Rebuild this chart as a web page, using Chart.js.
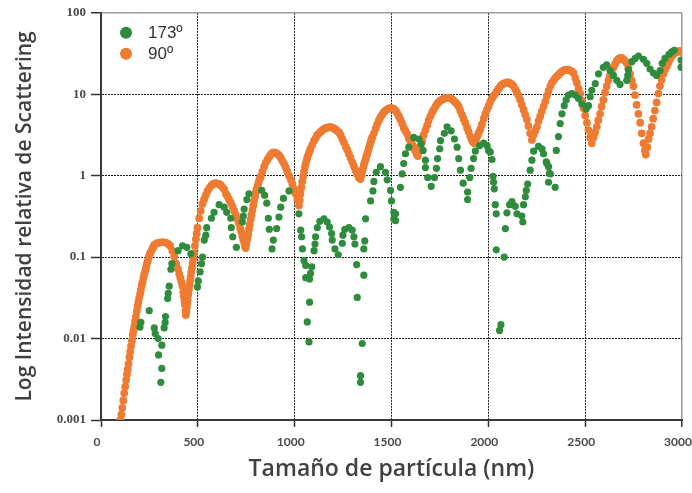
<!DOCTYPE html>
<html>
<head>
<meta charset="utf-8">
<script src="https://cdn.jsdelivr.net/npm/chart.js@4.4.1/dist/chart.umd.min.js"></script>
<style>
html,body{margin:0;padding:0;background:#ffffff;}
#wrap{width:692px;height:493px;}
</style>
</head>
<body>
<div id="wrap"><canvas id="c" width="692" height="493"></canvas></div>
<script>
// ---- tick labels / titles ----
const xTickValues = [0, 500, 1000, 1500, 2000, 2500, 3000];
const xTickLabels = ['0', '500', '1000', '1500', '2000', '2500', '3000'];
const yTickValues = [0.001, 0.01, 0.1, 1, 10, 100];
const yTickLabels = ['0.001', '0.01', '0.1', '1', '10', '100'];
const xTitle = 'Tamaño de partícula (nm)';
const yTitle = 'Log Intensidad relativa de Scattering';
const seriesNames = ['173º', '90º'];

// ---- 173º series (green) ----
const size173 = [201,206,249,275,280,295,297,309,314,314,326,331,333,344,347,352,361,366,398,421,443,464,
  498,502,512,519,524,533,541,546,570,584,610,636,649,670,673,680,699,730,735,739,753,764,
  830,845,856,864,869,883,890,907,919,928,942,971,
  1022,1031,1036,1040,1048,1057,1057,1065,1074,1077,1077,1082,1088,1100,1105,1108,1117,1130,1151,1168,1180,1191,1194,1208,1225,
  1246,1249,1259,1280,1297,1306,1311,1320,1323,1340,1340,1349,1357,1357,1362,1366,1392,1404,1409,1421,1443,1469,1478,1495,1500,
  1512,1512,1521,1521,1546,1555,1563,1572,1589,1615,1641,1653,1663,1675,1675,1687,1705,1722,1732,1738,1749,1753,1773,1787,
  1808,1825,1839,1847,1856,1870,1893,1893,1904,1911,1924,1933,1955,1976,1993,2001,2010,2019,2024,2027,2031,2036,2041,2041,
  2058,2065,2082,2088,2096,2110,2122,2139,2148,2173,2178,2182,2191,2196,2203,2216,2225,2234,2259,2277,2285,2299,2302,2311,2316,2320,2311,
  2345,2351,2362,2371,2380,2392,2402,2414,2431,2448,2465,2483,2505,2517,2526,2534,2552,2569,2594,2611,2629,2646,2663,2680,
  2715,2720,2723,2741,2758,2775,2801,2818,2835,2852,2869,2887,2898,2912,2933,2947,2960,2995,2995];
const intensity173 = [0.0138,0.0158,0.022,0.0135,0.0115,0.010,0.0063,0.0029,0.0083,0.0043,0.0135,0.0158,0.0186,0.031,0.036,0.044,0.071,0.083,0.12,0.138,0.132,0.11,
  0.043,0.051,0.066,0.083,0.10,0.162,0.186,0.23,0.30,0.355,0.44,0.41,0.355,0.30,0.23,0.178,0.132,0.27,0.32,0.39,0.51,0.60,
  0.66,0.575,0.46,0.30,0.22,0.126,0.162,0.224,0.31,0.41,0.525,0.65,
  0.34,0.214,0.178,0.126,0.091,0.079,0.056,0.016,0.0091,0.054,0.028,0.063,0.076,0.12,0.145,0.178,0.23,0.275,0.295,0.27,0.234,0.195,0.162,0.126,0.107,
  0.148,0.186,0.22,0.23,0.214,0.178,0.145,0.081,0.032,0.0035,0.0029,0.0087,0.060,0.126,0.158,0.295,0.49,0.65,0.85,1.10,1.29,1.10,0.89,0.66,0.49,
  0.355,0.295,0.34,0.28,0.72,1.05,1.41,1.86,2.24,2.95,2.82,2.45,2.04,1.55,1.26,0.95,0.74,0.95,1.23,1.62,2.14,2.69,3.31,3.98,
  3.55,2.82,2.24,1.62,1.17,0.81,0.63,0.51,0.95,1.23,1.62,2.0,2.34,2.51,2.34,2.04,1.95,1.58,0.98,0.83,0.69,0.44,0.34,0.123,
  0.0126,0.0148,0.10,0.224,0.35,0.44,0.48,0.42,0.34,0.32,0.27,0.44,0.55,0.66,0.79,1.17,1.55,2.0,2.29,2.14,1.86,1.48,1.41,1.29,1.07,1.05,0.83,
  0.72,2.04,3.02,4.37,5.75,7.24,8.51,9.77,10.2,9.77,8.91,7.59,6.61,7.24,9.33,11.2,13.5,17.8,21.4,22.9,19.5,17.0,14.8,13.2,
  14.8,17.0,20.0,25.1,27.5,29.5,26.9,24.0,20.4,18.2,17.0,19.5,24.0,27.5,30.9,33.1,34.7,26.3,21.4];

// ---- 90º series (orange) ----
const size90 = [100,105,110,115,120,125,130,134,138,142,147,151,155,160,164,168,172,176,180,185,189,193,197,202,206,210,214,219,223,228,232,236,241,245,250,254,258,263,267,271,275,
  288,301,318,335,347,357,368,378,388,398,404,410,416,421,425,428,431,433,436,438,441,443,445,447,451,454,457,460,463,466,470,473,476,480,485,490,494,498,
  507,515,524,532,541,550,560,570,580,590,600,610,620,628,636,645,653,661,670,679,688,696,705,712,718,724,730,735,740,744,747,
  751,755,760,764,768,773,777,782,786,790,795,799,803,808,812,816,821,825,833,842,851,860,868,877,885,893,902,910,919,928,937,945,954,962,971,980,988,997,1005,1014,1022,
  1026,1030,1035,1039,1044,1048,1052,1056,1061,1065,1069,1074,1078,1082,1091,1100,1108,1117,1126,1134,1143,1152,1160,1169,1178,1186,1195,1203,1212,1220,1229,1237,1246,1254,1263,1271,1280,1288,1297,1305,1314,1322,1331,1340,
  1344,1348,1353,1357,1361,1366,1370,1375,1379,1383,1388,1392,1396,1400,1409,1418,1426,1435,1443,1452,1460,1469,1478,1486,1495,1503,1512,1521,1529,1538,1546,1555,1563,1572,1581,1589,1598,1606,1615,1622,1629,1636,
  1643,1650,1658,1666,1675,1684,1692,1701,1710,1718,1727,1735,1744,1752,1761,1770,1778,1787,1795,1804,1812,1821,1830,1838,1847,1855,1864,1872,1881,1890,1898,1907,1915,1922,1929,
  1936,1944,1951,1959,1967,1976,1984,1993,2002,2010,2019,2027,2036,2045,2053,2062,2071,2079,2088,2096,2105,2113,2122,2130,2139,2148,2156,2165,2173,2182,2190,2199,2207,2216,2225,
  2233,2242,2251,2259,2268,2276,2285,2294,2302,2311,2320,2328,2337,2345,2354,2363,2371,2380,2389,2397,2406,2414,2423,2431,2440,2449,2457,2466,2474,2483,2491,2500,2509,2517,2526,2534,
  2543,2551,2560,2568,2577,2585,2594,2603,2611,2620,2628,2637,2646,2654,2663,2671,2680,2689,2697,2706,2715,2723,2732,2740,2749,2757,2766,2775,2784,2792,2801,2808,2813,
  2821,2828,2835,2843,2851,2860,2869,2878,2886,2895,2904,2912,2921,2930,2938,2947,2955,2964,2972,2981,2989,2998];
const intensity90 = [0.001,0.00117,0.00141,0.00174,0.00214,0.00257,0.00309,0.00363,0.00417,0.0049,0.0059,0.0069,0.0081,0.0095,0.0112,0.0126,0.0141,0.0162,0.0186,0.0219,0.025,0.0282,0.0316,0.0355,0.0398,0.0447,0.049,0.055,0.0617,0.0676,0.0741,0.0813,0.0891,0.0977,0.105,0.112,0.117,0.123,0.129,0.135,0.141,
  0.148,0.151,0.153,0.151,0.145,0.138,0.12,0.102,0.083,0.071,0.062,0.055,0.049,0.044,0.037,0.033,0.029,0.026,0.022,0.0195,0.0215,0.024,0.027,0.030,0.035,0.040,0.045,0.051,0.058,0.066,0.075,0.085,0.097,0.112,0.138,0.166,0.195,0.23,
  0.30,0.37,0.45,0.51,0.575,0.65,0.71,0.76,0.79,0.81,0.80,0.79,0.76,0.72,0.68,0.60,0.56,0.51,0.47,0.42,0.37,0.33,0.29,0.26,0.23,0.205,0.18,0.163,0.15,0.138,0.129,
  0.145,0.166,0.19,0.22,0.25,0.29,0.33,0.38,0.43,0.49,0.55,0.62,0.68,0.74,0.80,0.87,0.93,0.98,1.12,1.29,1.45,1.58,1.70,1.82,1.91,1.93,1.91,1.86,1.78,1.66,1.51,1.41,1.26,1.12,1.0,0.89,0.79,0.69,0.60,0.51,0.43,
  0.50,0.60,0.72,0.85,0.98,1.12,1.25,1.38,1.52,1.66,1.78,1.91,2.02,2.14,2.40,2.69,2.88,3.16,3.31,3.47,3.63,3.76,3.85,3.89,3.94,3.94,3.89,3.80,3.67,3.55,3.39,3.16,2.82,2.57,2.29,2.09,1.86,1.66,1.48,1.32,1.17,1.05,0.95,0.91,
  1.0,1.12,1.23,1.35,1.46,1.58,1.72,1.86,2.02,2.19,2.38,2.57,2.75,2.95,3.31,3.80,4.27,4.79,5.25,5.62,6.03,6.31,6.53,6.68,6.76,6.76,6.61,6.31,5.89,5.37,4.90,4.37,3.89,3.55,3.24,2.88,2.63,2.45,2.24,2.04,1.86,1.74,
  2.0,2.29,2.63,3.16,3.63,4.17,4.79,5.37,6.03,6.46,7.08,7.59,8.04,8.32,8.61,8.81,8.91,9.02,9.02,8.91,8.71,8.32,7.94,7.59,7.08,6.31,5.62,5.01,4.47,3.89,3.47,3.02,2.75,2.57,2.51,
  2.75,3.09,3.39,3.72,4.27,5.01,5.75,6.46,7.24,8.13,8.91,9.55,10.2,11.0,11.7,12.6,13.2,13.5,13.8,14.0,14.0,13.5,13.2,12.6,11.5,10.5,9.55,8.51,7.41,6.46,5.62,4.90,4.07,3.31,2.75,
  3.16,3.55,3.98,4.68,5.37,6.17,7.08,8.13,9.55,11.0,12.6,13.8,14.8,15.8,16.6,17.4,18.2,19.1,19.5,20.0,20.0,20.0,19.5,19.1,18.2,15.8,13.8,11.7,10.2,8.32,6.76,5.50,4.47,3.63,2.95,2.51,
  2.95,3.39,3.98,4.79,5.75,7.08,8.51,10.5,12.6,14.8,17.0,19.1,21.4,23.4,25.7,26.9,27.9,27.9,26.9,25.7,24.0,20.9,17.8,14.8,12.6,9.77,7.41,5.75,4.47,3.31,2.51,2.04,1.82,
  2.24,2.82,3.31,3.98,5.01,6.31,7.94,10.2,12.6,15.1,17.8,20.0,21.9,24.5,26.9,29.5,30.9,32.4,33.1,33.9,33.9,33.1];

const GREEN = '#2e8c3c';
const ORANGE = '#ee7b31';

const data173 = size173.map((x, i) => ({ x: x, y: intensity173[i] }));
const data90 = size90.map((x, i) => ({ x: x, y: intensity90[i] }));

const insideLegend = {
  id: 'insideLegend',
  afterDatasetsDraw(chart) {
    const { ctx, chartArea } = chart;
    ctx.save();
    chart.data.datasets.forEach((ds, i) => {
      const cx = chartArea.left + 25;
      const cy = chartArea.top + 20 + i * 21;
      ctx.beginPath();
      ctx.arc(cx, cy, 6, 0, Math.PI * 2);
      ctx.fillStyle = ds.backgroundColor;
      ctx.fill();
      ctx.fillStyle = '#333333';
      ctx.font = '17px "Liberation Sans", Arial, sans-serif';
      ctx.textBaseline = 'middle';
      ctx.textAlign = 'left';
      ctx.fillText(ds.label, cx + 22, cy + 1);
    });
    ctx.restore();
  }
};

const isEdge = (c, v) => c && c.tick && c.tick.value === v;

new Chart(document.getElementById('c'), {
  type: 'scatter',
  data: {
    datasets: [
      { label: seriesNames[0], data: data173, backgroundColor: GREEN, borderWidth: 0, pointRadius: 3.6, pointHoverRadius: 3.6 },
      { label: seriesNames[1], data: data90, backgroundColor: ORANGE, borderWidth: 0, pointRadius: 3.9, pointHoverRadius: 3.9 }
    ]
  },
  options: {
    responsive: false,
    animation: false,
    layout: { padding: { left: 0, right: 10, top: 12, bottom: 0 } },
    plugins: { legend: { display: false }, tooltip: { enabled: false } },
    scales: {
      x: {
        type: 'linear',
        min: 0, max: 3000,
        afterBuildTicks: (axis) => { axis.ticks = xTickValues.map(v => ({ value: v })); },
        afterFit: (scale) => { scale.height = 73; scale.paddingRight = 0; scale.paddingLeft = 0; },
        grid: {
          color: (c) => isEdge(c, 3000) ? '#9a9a9a' : (isEdge(c, 0) ? 'rgba(0,0,0,0)' : '#1e1e1e'),
          lineWidth: (c) => isEdge(c, 3000) ? 1.5 : 1,
          drawTicks: true, tickLength: 7, tickColor: '#333333', tickWidth: 1.5
        },
        border: { display: true, color: '#3a3a3a', width: 2, dash: (c) => (isEdge(c, 3000) ? [] : [2, 1]) },
        ticks: {
          color: '#4a4a4a', padding: 8, labelOffset: -4,
          font: { family: 'Lato', weight: 'bold', size: 12 },
          callback: (v) => { const k = xTickValues.indexOf(v); return k >= 0 ? xTickLabels[k] : ''; }
        },
        title: { display: true, text: xTitle, color: '#404040', font: { family: 'Open Sans', weight: '600', size: 23 }, padding: { top: 0, bottom: 10 } }
      },
      y: {
        type: 'logarithmic',
        min: 0.001, max: 100,
        afterBuildTicks: (axis) => { axis.ticks = yTickValues.map(v => ({ value: v })); },
        afterFit: (scale) => { scale.width = 101; },
        grid: {
          color: (c) => isEdge(c, 100) ? '#9a9a9a' : (isEdge(c, 0.001) ? 'rgba(0,0,0,0)' : '#1e1e1e'),
          lineWidth: (c) => isEdge(c, 100) ? 1.5 : 1,
          drawTicks: true, tickLength: 10, tickColor: '#333333', tickWidth: 1.5
        },
        border: { display: true, color: '#3a3a3a', width: 2, dash: (c) => (isEdge(c, 100) ? [] : [2, 1]) },
        ticks: {
          color: '#4a4a4a', padding: 5,
          font: { family: 'Liberation Serif', weight: 'bold', size: 13 },
          callback: (v) => { const k = yTickValues.indexOf(v); return k >= 0 ? yTickLabels[k] : ''; }
        },
        title: { display: true, text: yTitle, color: '#3f3f3f', font: { family: 'Open Sans', weight: '600', size: 21 }, padding: { top: 12, bottom: 0 } }
      }
    }
  },
  plugins: [insideLegend]
});
</script>
</body>
</html>
